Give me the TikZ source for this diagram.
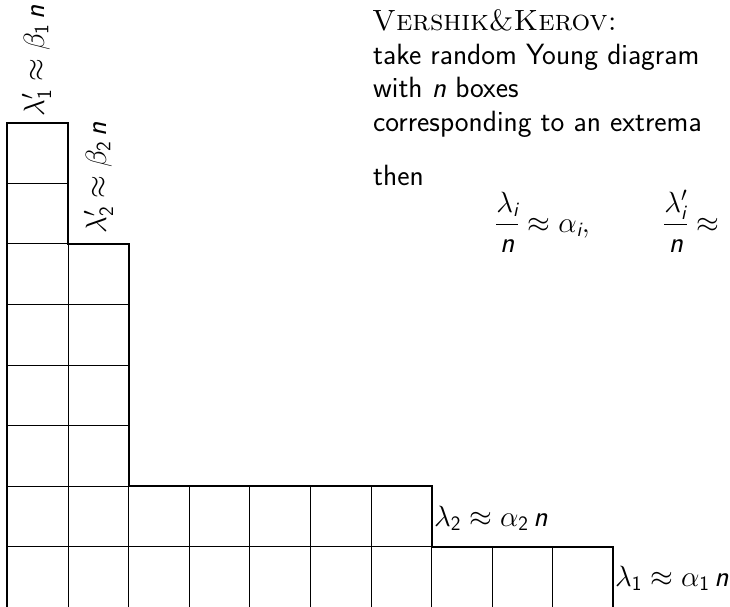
\RequirePackage{fix-cm}
\documentclass[tikz,border=0pt]{standalone}
\usepackage{amsmath}
\newcommand\sit[1]{\textsf{\itshape #1}}
\tikzset{
  cell/.style={draw=black, line width=0.8pt},
  outline/.style={draw=black, line width=2pt, line join=miter},
  txt/.style={font=\fontsize{29.3}{35}\selectfont\sffamily, inner sep=0pt, anchor=base west},
  lbl/.style={font=\fontsize{29.3}{35}\selectfont, inner sep=0pt},
}
\begin{document}
\begin{tikzpicture}[x=1pt,y=-1pt]
\useasboundingbox (0,0) rectangle (730,606);
\clip (0,0) rectangle (730,606);
\fill[white] (0,0) rectangle (730,606);
% cells of the Young diagram
\foreach \c/\h in {0/8,1/6,2/2,3/2,4/2,5/2,6/2,7/1,8/1,9/1}{
  \foreach \r in {1,...,\h}{
    \draw[cell] ({7.3+\c*60.6},{607.3-\r*60.6}) rectangle ++(60.6,60.6);
  }
}
% outline
\draw[outline] (7.3,612) -- (7.3,122.5) -- (67.9,122.5) -- (67.9,243.7) -- (128.5,243.7)
  -- (128.5,486.1) -- (431.5,486.1) -- (431.5,546.7) -- (613.3,546.7) -- (613.3,612);
% text
\node[txt] (title) at (372,30) {\rmfamily\textsc{Vershik\&Kerov:}};
\node[txt] (l1) at (373,64) {take random Young diagram};
\node[txt] (l2) at (373,97.5) {with \textit{n} boxes};
\node[txt] (l3) at (373,131.5) {corresponding to an extrema};
\node[txt] (l4) at (373,185) {then};
\node[lbl, anchor=base west] (eq1) at (495,232)
  {$\displaystyle\frac{\lambda_{\sit{i}}}{\sit{n}}\approx\alpha_{\sit{i}},$};
\node[lbl, anchor=base west] (eq2) at (663,232)
  {$\displaystyle\frac{\lambda'_{\sit{i}}}{\sit{n}}\approx$};
% labels
\node[lbl, anchor=base west] (a2) at (434,526) {$\lambda_{\mathsf{2}}\approx\alpha_{\mathsf{2}}\,\sit{n}$};
\node[lbl, anchor=base west] (a1) at (615,586) {$\lambda_{\mathsf{1}}\approx\alpha_{\mathsf{1}}\,\sit{n}$};
\node[lbl, rotate=90, anchor=base] (b1) at (44,61) {$\lambda'_{\mathsf{1}}\approx\beta_{\mathsf{1}}\,\sit{n}$};
\node[lbl, rotate=90, anchor=base] (b2) at (106,178) {$\lambda'_{\mathsf{2}}\approx\beta_{\mathsf{2}}\,\sit{n}$};
\end{tikzpicture}
\end{document}
